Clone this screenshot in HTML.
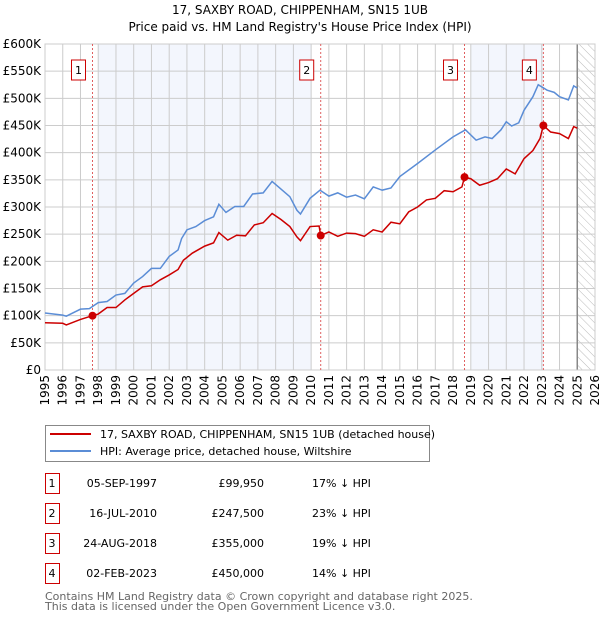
<!DOCTYPE html>
<html><head><meta charset="utf-8"><style>
body{margin:0;background:#fff;font-family:"DejaVu Sans","Liberation Sans",sans-serif;}
svg{display:block}
</style></head><body>
<svg id="chart" width="600" height="620" xmlns="http://www.w3.org/2000/svg" font-family="DejaVu Sans, Liberation Sans, sans-serif">
<text x="300" y="14" text-anchor="middle" font-size="12">17, SAXBY ROAD, CHIPPENHAM, SN15 1UB</text>
<text x="300" y="31" text-anchor="middle" font-size="12">Price paid vs. HM Land Registry's House Price Index (HPI)</text>
<defs><pattern id="hatch" width="6" height="6" patternUnits="userSpaceOnUse" patternTransform="rotate(-45)"><line x1="0" y1="0" x2="0" y2="6" stroke="#bbb" stroke-width="1"/></pattern></defs>
<g id="plot"></g>
<rect x="45.5" y="425.5" width="384" height="36" fill="#fff" stroke="#888"/>
<line x1="50" y1="434" x2="91" y2="434" stroke="#cc0000" stroke-width="2"/>
<text x="100" y="438" font-size="11">17, SAXBY ROAD, CHIPPENHAM, SN15 1UB (detached house)</text>
<line x1="50" y1="451" x2="91" y2="451" stroke="#5b8dd6" stroke-width="2"/>
<text x="100" y="455" font-size="11">HPI: Average price, detached house, Wiltshire</text>
<g id="table" font-size="11"></g>
<text x="45" y="600" font-size="11" fill="#666">Contains HM Land Registry data © Crown copyright and database right 2025.</text>
<text x="45" y="610" font-size="11" fill="#666">This data is licensed under the Open Government Licence v3.0.</text>
</svg>
<script>
const hpiYears=[1995,1996,1996.2,1997,1997.5,1998,1998.5,1999,1999.5,2000,2000.5,2001,2001.5,2002,2002.5,2002.7,2003,2003.5,2004,2004.5,2004.8,2005.2,2005.7,2006.2,2006.7,2007.3,2007.8,2008.3,2008.8,2009.2,2009.4,2009.94,2010.5,2011,2011.5,2012,2012.5,2013,2013.5,2014,2014.5,2015,2016,2017,2018,2018.7,2019.3,2019.8,2020.2,2020.7,2021,2021.3,2021.7,2022,2022.5,2022.8,2023.3,2023.7,2024,2024.5,2024.8,2025];
const hpiValues=[105,101,99,112,113,124,126,138,141,160,172,187,187,209,221,242,258,264,275,282,305,290,301,301,324,326,347,333,319,294,287,316,331,320,326,318,322,315,337,331,335,356,380,405,429,442,423,429,426,442,457,449,455,478,503,525,515,511,503,497,523,519];
const ppYears=[1995,1996,1996.2,1997,1997.677,1998,1998.5,1999,1999.5,2000,2000.5,2001,2001.5,2002,2002.5,2002.8,2003.3,2004,2004.5,2004.8,2005.3,2005.8,2006.3,2006.8,2007.3,2007.8,2008.3,2008.8,2009.2,2009.4,2009.94,2010.45,2010.54,2011,2011.5,2012,2012.5,2013,2013.5,2014,2014.5,2015,2015.5,2016,2016.5,2017,2017.5,2018,2018.5,2018.645,2019,2019.5,2020,2020.5,2021,2021.5,2022,2022.5,2022.9,2023.09,2023.5,2024,2024.5,2024.8,2025];
const ppValues=[87,86,83,93,99.95,103,115,115,129,141,153,155,166,175,185,202,215,228,234,253,239,248,247,267,271,288,277,264,245,238,264,265,247.5,254,246,252,251,246,258,254,272,269,291,300,313,316,330,328,337,355,352,340,345,352,370,361,389,404,426,450,438,435,426,448,445];
const saleLabels=["1","2","3","4"];
const saleYears=[1997.677,2010.54,2018.645,2023.09];
const saleValues=[99.95,247.5,355,450];
const saleDates=["05-SEP-1997","16-JUL-2010","24-AUG-2018","02-FEB-2023"];
const salePrices=["£99,950","£247,500","£355,000","£450,000"];
const saleDiffs=["17% ↓ HPI","23% ↓ HPI","19% ↓ HPI","14% ↓ HPI"];
const yTicks=[0,50,100,150,200,250,300,350,400,450,500,550,600];
const yTickLabels=["£0","£50K","£100K","£150K","£200K","£250K","£300K","£350K","£400K","£450K","£500K","£550K","£600K"];
const xTicks=[1995,1996,1997,1998,1999,2000,2001,2002,2003,2004,2005,2006,2007,2008,2009,2010,2011,2012,2013,2014,2015,2016,2017,2018,2019,2020,2021,2022,2023,2024,2025,2026];

const L=45,R=595,T=44,B=370;
const X=y=>L+(y-1995)/(2026-1995)*(R-L);
const Y=v=>B-v/600*(B-T);
const NS="http://www.w3.org/2000/svg";
const plot=document.getElementById('plot');
function mk(tag,attrs,parent){const e=document.createElementNS(NS,tag);for(const k in attrs)e.setAttribute(k,attrs[k]);(parent||plot).appendChild(e);return e;}

mk('rect',{x:L,y:T,width:R-L,height:B-T,fill:'#fff'});
const b1=mk('rect',{x:X(1998),y:T,width:X(2010)-X(1998),height:B-T,fill:'#f3f6fd'});


const b2=mk('rect',{x:X(2019),y:T,width:X(2023.1)-X(2019),height:B-T,fill:'#f3f6fd'});


const h=mk('rect',{x:X(2025),y:T,width:R-X(2025),height:B-T,fill:'url(#hatch)'});


yTicks.forEach((v,i)=>{
  mk('line',{x1:L,x2:R,y1:Y(v),y2:Y(v),stroke:'#ccc','stroke-width':1});
  const t=mk('text',{x:L-4,y:Y(v)+4,'text-anchor':'end','font-size':12});
  t.textContent=yTickLabels[i];
  
  
});
xTicks.forEach(yr=>{
  mk('line',{x1:X(yr),x2:X(yr),y1:T,y2:B,stroke:'#ccc','stroke-width':1});
  const t=mk('text',{x:0,y:0,'text-anchor':'end','font-size':12,transform:`translate(${X(yr)+4},${B+5}) rotate(-90)`});
  t.textContent=yr;
  
  
});
mk('line',{x1:X(2025),x2:X(2025),y1:T,y2:B,stroke:'#888','stroke-width':1.5});
mk('rect',{x:L,y:T,width:R-L,height:B-T,fill:'none',stroke:'#ccc'});
saleYears.forEach((yr,i)=>{
  mk('line',{x1:X(yr),x2:X(yr),y1:T,y2:B,stroke:'#e06060','stroke-width':1,'stroke-dasharray':'2,2'});
  const bx=mk('rect',{x:X(yr)-21,y:60,width:14,height:20,fill:'#fff',stroke:'#cc0000'});
  
  
  const t=mk('text',{x:X(yr)-14,y:74,'text-anchor':'middle','font-size':11});
  t.textContent=saleLabels[i];
});
const hp=mk('polyline',{points:hpiYears.map((y,i)=>X(y)+','+Y(hpiValues[i])).join(' '),fill:'none',stroke:'#5b8dd6','stroke-width':1.5});


const pp=mk('polyline',{points:ppYears.map((y,i)=>X(y)+','+Y(ppValues[i])).join(' '),fill:'none',stroke:'#cc0000','stroke-width':1.5});


saleYears.forEach((yr,i)=>{
  const c=mk('circle',{cx:X(yr),cy:Y(saleValues[i]),r:4,fill:'#cc0000'});
  
  
});
const tb=document.getElementById('table');
saleLabels.forEach((s,i)=>{
  const y=483+i*30;
  const r=mk('rect',{x:45.5,y:y-9.5,width:14,height:20,fill:'#fff',stroke:'#cc0000'},tb);
  
  
  const cols=[[52,'middle',s],[157,'end',saleDates[i]],[264,'end',salePrices[i]],[312,'start',saleDiffs[i]]];
  cols.forEach(c=>{const t=mk('text',{x:c[0],y:y+4,'text-anchor':c[1]},tb);t.textContent=c[2];
    
    });
});
</script>
</body></html>
